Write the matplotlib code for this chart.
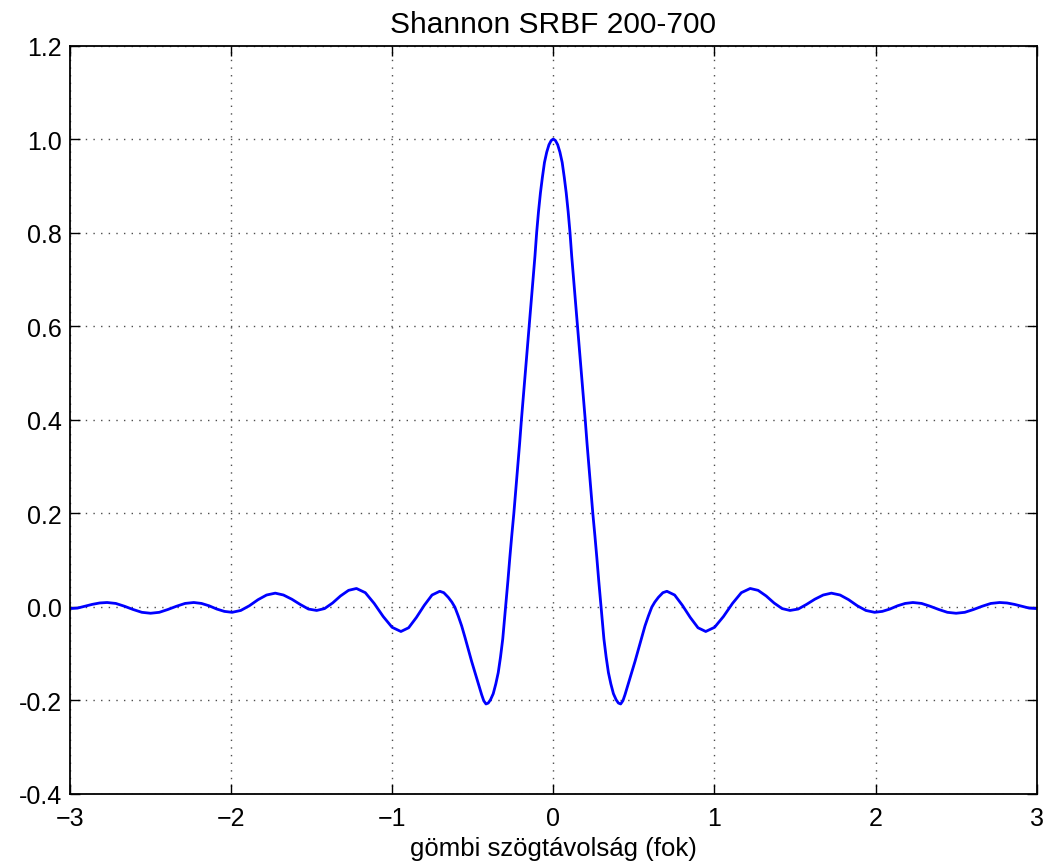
import matplotlib
matplotlib.use("Agg")
import matplotlib.pyplot as plt

# Values (degrees, normalised kernel value)
dist_left = [
    -3.000, -2.954, -2.908, -2.862, -2.816, -2.770, -2.716, -2.662, -2.608,
    -2.554, -2.500, -2.446, -2.393, -2.339, -2.286, -2.232, -2.184, -2.137,
    -2.089, -2.042, -1.994, -1.940, -1.887, -1.833, -1.780, -1.726, -1.675,
    -1.623, -1.572, -1.520, -1.469, -1.420, -1.370, -1.321, -1.271, -1.222,
    -1.167, -1.112, -1.056, -1.001, -0.946, -0.898, -0.850, -0.801, -0.753,
    -0.705, -0.680, -0.652, -0.630, -0.611, -0.590, -0.569, -0.548, -0.528,
    -0.507, -0.486, -0.465, -0.445, -0.432, -0.418, -0.404, -0.390, -0.373,
    -0.357, -0.342, -0.328, -0.314, -0.296, -0.282, -0.270, -0.258, -0.245,
    -0.233, -0.221, -0.209, -0.198, -0.186, -0.174, -0.162, -0.150, -0.138,
    -0.126, -0.114, -0.1035, -0.092, -0.080, -0.068, -0.055, -0.041, -0.027,
    -0.013, 0.000,
]
kern_left = [
    -0.004, -0.003, 0.001, 0.005, 0.008, 0.009, 0.007, 0.001, -0.006,
    -0.012, -0.014, -0.012, -0.006, 0.001, 0.007, 0.009, 0.007, 0.002,
    -0.005, -0.010, -0.012, -0.008, 0.002, 0.015, 0.025, 0.029, 0.025,
    0.016, 0.005, -0.005, -0.008, -0.004, 0.008, 0.023, 0.035, 0.039,
    0.030, 0.007, -0.021, -0.044, -0.053, -0.045, -0.023, 0.003, 0.025,
    0.033, 0.030, 0.020, 0.010, -0.001, -0.020, -0.041, -0.066, -0.091,
    -0.117, -0.141, -0.165, -0.188, -0.201, -0.208, -0.206, -0.199, -0.186,
    -0.165, -0.141, -0.108, -0.069, 0.000, 0.055, 0.105, 0.152, 0.200,
    0.250, 0.300, 0.350, 0.400, 0.450, 0.500, 0.550, 0.600, 0.650,
    0.700, 0.750, 0.800, 0.845, 0.885, 0.918, 0.950, 0.972, 0.988,
    0.997, 1.000,
]
dist_right = [
    0.013, 0.027, 0.041, 0.055, 0.068, 0.080, 0.092, 0.1035, 0.114,
    0.126, 0.138, 0.150, 0.162, 0.174, 0.186, 0.198, 0.209, 0.221,
    0.233, 0.245, 0.258, 0.270, 0.282, 0.296, 0.314, 0.328, 0.342,
    0.357, 0.373, 0.390, 0.404, 0.418, 0.432, 0.445, 0.465, 0.486,
    0.507, 0.528, 0.548, 0.569, 0.590, 0.611, 0.630, 0.652, 0.680,
    0.705, 0.753, 0.801, 0.850, 0.898, 0.946, 1.001, 1.056, 1.112,
    1.167, 1.222, 1.271, 1.321, 1.370, 1.420, 1.469, 1.520, 1.572,
    1.623, 1.675, 1.726, 1.780, 1.833, 1.887, 1.940, 1.994, 2.042,
    2.089, 2.137, 2.184, 2.232, 2.286, 2.339, 2.393, 2.446, 2.500,
    2.554, 2.608, 2.662, 2.716, 2.770, 2.816, 2.862, 2.908, 2.954,
    3.000,
]
kern_right = [
    0.997, 0.988, 0.972, 0.950, 0.918, 0.885, 0.845, 0.800, 0.750,
    0.700, 0.650, 0.600, 0.550, 0.500, 0.450, 0.400, 0.350, 0.300,
    0.250, 0.200, 0.152, 0.105, 0.055, 0.000, -0.069, -0.108, -0.141,
    -0.165, -0.186, -0.199, -0.206, -0.208, -0.201, -0.188, -0.165, -0.141,
    -0.117, -0.091, -0.066, -0.041, -0.020, -0.001, 0.010, 0.020, 0.030,
    0.033, 0.025, 0.003, -0.023, -0.045, -0.053, -0.044, -0.021, 0.007,
    0.030, 0.039, 0.035, 0.023, 0.008, -0.004, -0.008, -0.005, 0.005,
    0.016, 0.025, 0.029, 0.025, 0.015, 0.002, -0.008, -0.012, -0.010,
    -0.005, 0.002, 0.007, 0.009, 0.007, 0.001, -0.006, -0.012, -0.014,
    -0.012, -0.006, 0.001, 0.007, 0.009, 0.008, 0.005, 0.001, -0.003,
    -0.004,
]
x_ticks = [-3, -2, -1, 0, 1, 2, 3]
y_ticks = [-0.4, -0.2, 0.0, 0.2, 0.4, 0.6, 0.8, 1.0, 1.2]

plt.rcParams['font.family'] = ['Liberation Sans', 'DejaVu Sans']

fig = plt.figure(figsize=(10.45, 8.62), dpi=100)
ax = fig.add_axes([0.067, 0.078, 0.925, 0.868])

ax.plot(dist_left + dist_right, kern_left + kern_right,
        color='blue', linewidth=2.0)

ax.set_xlim(-3, 3)
ax.set_ylim(-0.4, 1.2)
ax.set_xticks(x_ticks)
ax.set_yticks(y_ticks)
ax.set_yticklabels(['%.1f' % v for v in y_ticks])

# classic look: inward ticks on every side, dotted grid
ax.tick_params(direction='in', length=7, width=1, top=True, right=True,
               labelsize=18)
ax.tick_params(axis='x', pad=9)
ax.tick_params(axis='y', pad=6)
ax.grid(True, color='0.3', linestyle=(0, (1, 4.5)), linewidth=1.0)
for sp in ax.spines.values():
    sp.set_linewidth(1.3)

ax.set_title('Shannon SRBF 200-700', fontsize=21.5, pad=10)
ax.set_xlabel('gömbi szögtávolság (fok)', fontsize=18.5, labelpad=4)

fig.savefig('out.png', dpi=100)
